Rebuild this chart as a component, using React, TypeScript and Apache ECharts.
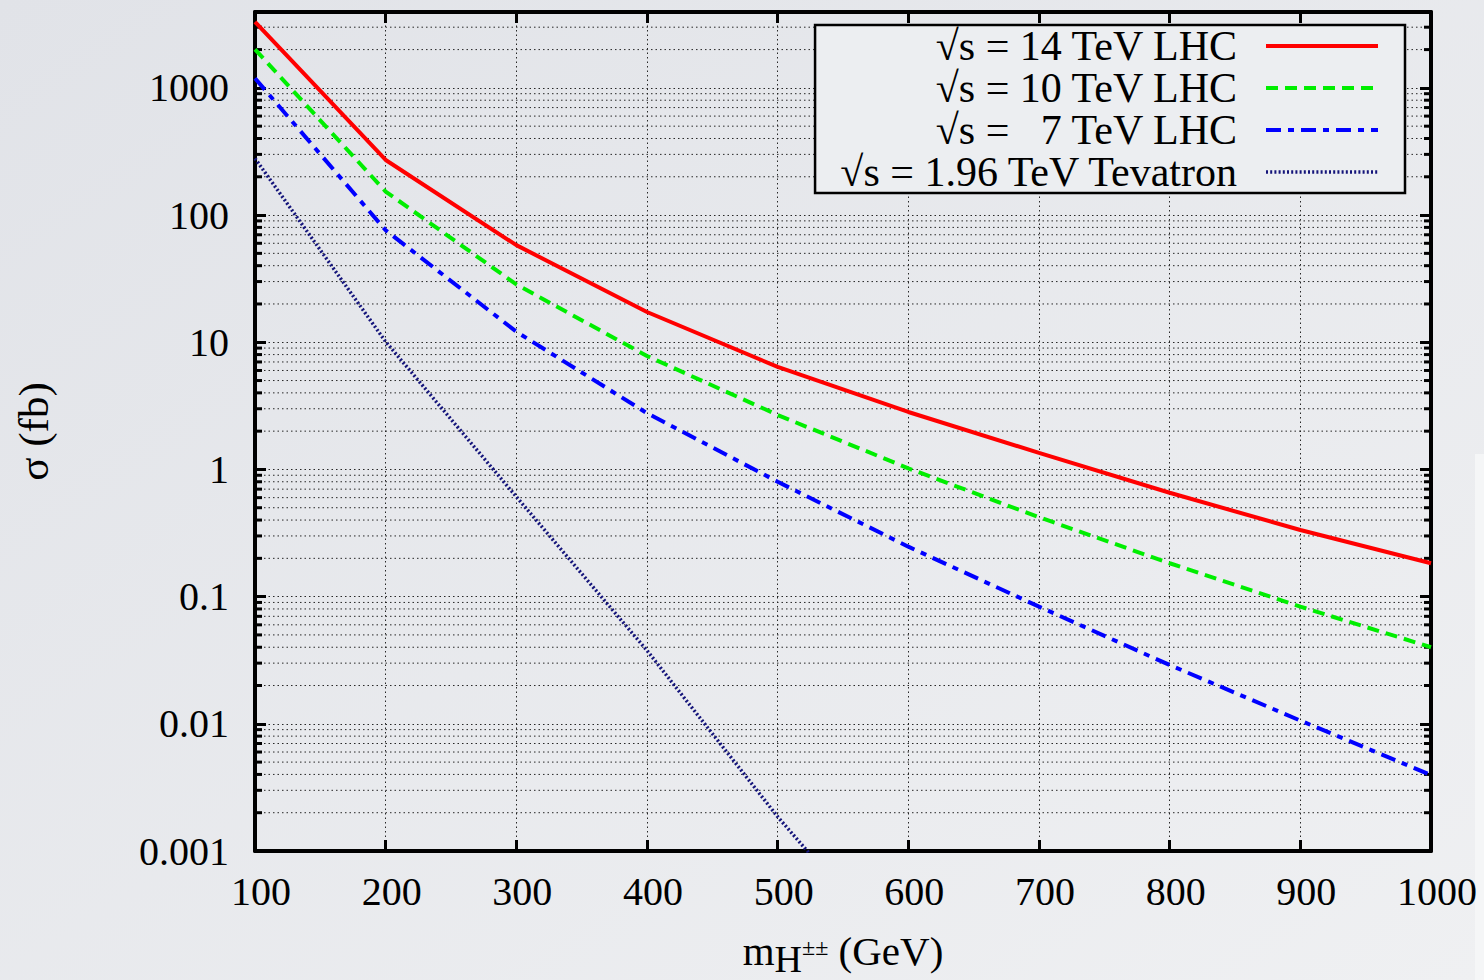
import React, { useEffect, useRef } from "react";
import * as echarts from "echarts";

// ---- data ----
const masses = [100, 200, 300, 400, 500, 600, 700, 800, 900, 1000];
const lhc14 = [3300, 271, 58, 17.3, 6.4, 2.83, 1.35, 0.656, 0.334, 0.183];
const lhc10 = [2010, 153, 28.5, 7.8, 2.68, 1.02, 0.421, 0.183, 0.0834, 0.04];
const lhc7 = [1190, 76, 12.1, 2.77, 0.8, 0.247, 0.0834, 0.029, 0.0106, 0.00396];
const tevMasses = [100, 200, 300, 400, 500, 600];
const tev196 = [279, 10.1, 0.61, 0.0377, 0.00186, 0.00012];

const seriesNames = [
  "√s = 14 TeV LHC",
  "√s = 10 TeV LHC",
  "√s =   7 TeV LHC",
  "√s = 1.96 TeV Tevatron",
];
const seriesColors = ["#ff0000", "#00ee00", "#0000ff", "#14147a"];

const xMin = 100;
const xMax = 1000;
const xStep = 100;
const yMin = 0.001;
const yMax = 3950;
const yTickLabels = ["0.001", "0.01", "0.1", "1", "10", "100", "1000"];
const decades = [0.001, 0.01, 0.1, 1, 10, 100, 1000];
const mantissas = [2, 3, 4, 5, 6, 7, 8, 9];

const FONT = "'Liberation Serif', 'Times New Roman', serif";
const GRID_COLOR = "#262626";
const GRID_DASH = [1.5, 3];

const minorValues: number[] = [];
decades.forEach((d) =>
  mantissas.forEach((m) => {
    const v = d * m;
    if (v < yMax) minorValues.push(v);
  })
);

export default function App() {
  const ref = useRef<HTMLDivElement>(null);

  useEffect(() => {
    if (!ref.current) return;
    const chart = echarts.init(ref.current, undefined, { renderer: "svg" });

    const mk = (xs: number[], ys: number[]) => xs.map((x, i) => [x, ys[i]]);

    const lineSeries = [
      { data: mk(masses, lhc14), type: "solid", width: 4 },
      { data: mk(masses, lhc10), type: [12, 7], width: 4 },
      { data: mk(masses, lhc7), type: [15, 7, 6, 7], width: 4 },
      { data: mk(tevMasses, tev196), type: [2, 2.2], width: 3.5 },
    ].map((s, i) => ({
      name: seriesNames[i],
      type: "line",
      data: s.data,
      symbol: "none",
      showSymbol: false,
      clip: true,
      z: 3,
      color: seriesColors[i],
      lineStyle: { color: seriesColors[i], width: s.width, type: s.type },
    }));

    const option: any = {
      animation: false,
      backgroundColor: {
        type: "linear",
        x: 0,
        y: 0,
        x2: 1,
        y2: 1,
        colorStops: [
          { offset: 0, color: "#e1e3e8" },
          { offset: 1, color: "#eff0f2" },
        ],
      },
      textStyle: { fontFamily: FONT },
      grid: {
        left: 255,
        right: 53,
        top: 12,
        bottom: 129,
        show: false,
        containLabel: false,
        outerBoundsMode: "none",
      },
      legend: {
        data: seriesNames,
        orient: "vertical",
        right: 79,
        top: 25,
        align: "right",
        itemWidth: 112,
        itemHeight: 14,
        itemGap: 0,
        padding: [0, 25, 0, 23],
        backgroundColor: "#eceef1",
        borderColor: "#000",
        borderWidth: 2.5,
        borderRadius: 0,
        selectedMode: false,
        itemStyle: { color: "rgba(0,0,0,0)", borderWidth: 0, borderColor: "rgba(0,0,0,0)", opacity: 0 },
        lineStyle: { width: "inherit" },
        textStyle: {
          fontFamily: FONT,
          fontSize: 42,
          color: "#000",
          lineHeight: 41.5,
          padding: [0, 24, 0, 0],
        },
      },
      graphic: [
        {
          type: "rect",
          shape: { x: 1475, y: 454, width: 9, height: 526 },
          style: { fill: "#f5f6f7" },
          z: -1,
          silent: true,
        },
      ],
      xAxis: [
        {
          type: "value",
          position: "bottom",
          min: xMin,
          max: xMax,
          interval: xStep,
          name: "{m|m}{sub|H}{sup|±±}{r| (GeV)}",
          nameLocation: "middle",
          nameGap: 77,
          nameTextStyle: {
            fontFamily: FONT,
            color: "#000",
            rich: {
              m: { fontSize: 41, lineHeight: 46, fontFamily: FONT, color: "#000" },
              sub: {
                fontSize: 38,
                lineHeight: 30,
                padding: [16, 0, 0, 0],
                fontFamily: FONT,
                color: "#000",
              },
              sup: {
                fontSize: 24,
                lineHeight: 38,
                padding: [0, 0, 8, 0],
                fontFamily: FONT,
                color: "#000",
              },
              r: { fontSize: 41, lineHeight: 46, fontFamily: FONT, color: "#000" },
            },
          },
          axisLine: { show: true, onZero: false, lineStyle: { color: "#000", width: 4 } },
          axisTick: { show: true, inside: true, length: 11, lineStyle: { color: "#000", width: 3 } },
          axisLabel: {
            show: true,
            fontSize: 40,
            fontFamily: FONT,
            color: "#000",
            margin: 20,
            padding: [0, 0, 0, 12],
            formatter: (v: number) => String(v),
          },
          splitLine: {
            show: true,
            lineStyle: { color: GRID_COLOR, width: 1, type: GRID_DASH },
          },
        },
        {
          type: "value",
          position: "top",
          min: xMin,
          max: xMax,
          interval: xStep,
          axisLine: { show: true, onZero: false, lineStyle: { color: "#000", width: 4 } },
          axisTick: { show: true, inside: true, length: 11, lineStyle: { color: "#000", width: 3 } },
          axisLabel: { show: false },
          splitLine: { show: false },
        },
      ],
      yAxis: [
        {
          type: "log",
          logBase: 10,
          position: "left",
          min: yMin,
          max: yMax,
          name: "σ (fb)",
          nameLocation: "middle",
          nameGap: 200,
          nameTextStyle: { fontFamily: FONT, fontSize: 43, color: "#000" },
          axisLine: { show: true, onZero: false, lineStyle: { color: "#000", width: 4 } },
          axisTick: { show: true, inside: true, length: 11, lineStyle: { color: "#000", width: 3 } },
          axisLabel: {
            show: true,
            fontSize: 40,
            fontFamily: FONT,
            color: "#000",
            margin: 26,
            formatter: (v: number) => {
              const s = yTickLabels.find(
                (t) => Math.abs(Math.log10(parseFloat(t)) - Math.log10(v)) < 1e-6
              );
              return s ?? "";
            },
          },
          splitLine: {
            show: true,
            lineStyle: { color: GRID_COLOR, width: 1, type: GRID_DASH },
          },
        },
        {
          type: "log",
          logBase: 10,
          position: "right",
          min: yMin,
          max: yMax,
          axisLine: { show: true, onZero: false, lineStyle: { color: "#000", width: 4 } },
          axisTick: { show: true, inside: true, length: 11, lineStyle: { color: "#000", width: 3 } },
          axisLabel: { show: false },
          splitLine: { show: false },
        },
      ],
      series: [
        {
          name: "minor",
          type: "custom",
          z: 1,
          silent: true,
          xAxisIndex: 0,
          yAxisIndex: 0,
          data: minorValues.map((v) => [xMin, v]),
          renderItem: (params: any, api: any) => {
            const v = api.value(1);
            const a = api.coord([xMin, v]);
            const b = api.coord([xMax, v]);
            return {
              type: "group",
              children: [
                {
                  type: "line",
                  shape: { x1: a[0], y1: a[1], x2: b[0], y2: b[1] },
                  style: { stroke: GRID_COLOR, lineWidth: 1, lineDash: GRID_DASH },
                },
                {
                  type: "line",
                  shape: { x1: a[0], y1: a[1], x2: a[0] + 7, y2: a[1] },
                  style: { stroke: "#000", lineWidth: 3 },
                },
                {
                  type: "line",
                  shape: { x1: b[0] - 7, y1: b[1], x2: b[0], y2: b[1] },
                  style: { stroke: "#000", lineWidth: 3 },
                },
              ],
            };
          },
        },
        ...lineSeries,
      ],
    };

    chart.setOption(option);
    return () => chart.dispose();
  }, []);

  return (
    <div
      ref={ref}
      style={{ position: "absolute", left: 0, top: 0, width: 1484, height: 980 }}
    />
  );
}
